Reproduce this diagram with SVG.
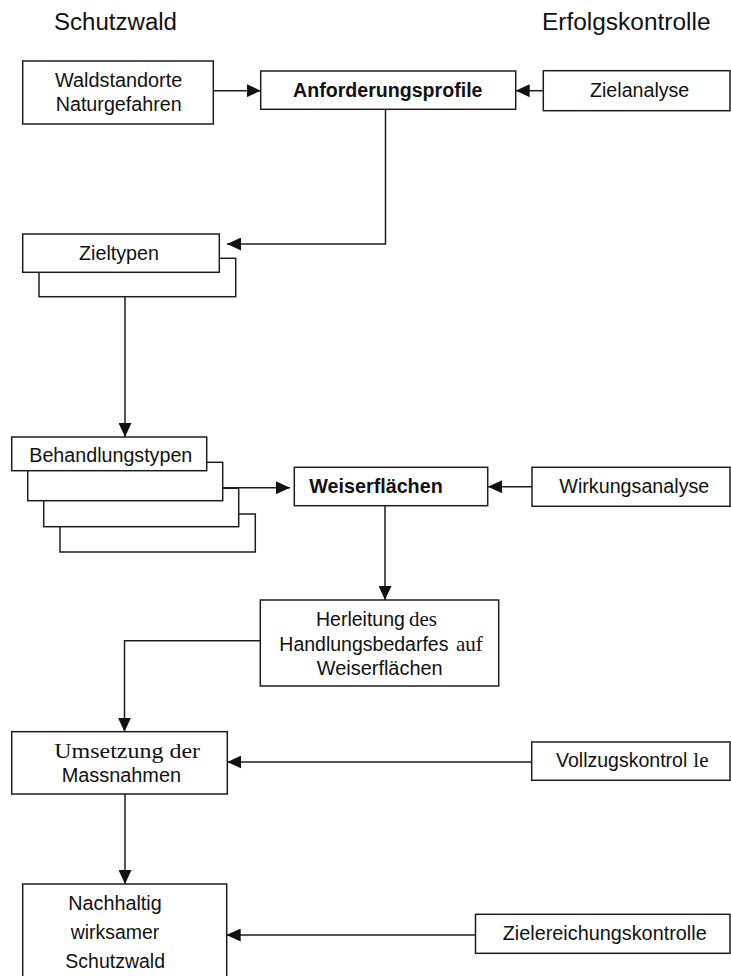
<svg xmlns="http://www.w3.org/2000/svg" width="731" height="976" viewBox="0 0 731 976">
<defs>
<style>
.box{fill:#fff;stroke:#1e1e1e;stroke-width:1.5}
.t{font-family:"Liberation Sans",Arial,sans-serif;font-size:19.5px;fill:#111}
.b{font-weight:bold}
.s{font-family:"Liberation Serif","Times New Roman",serif;font-size:21px}
.title{font-family:"Liberation Sans",Arial,sans-serif;font-size:23px;fill:#111}
.c{fill:none;stroke:#1e1e1e;stroke-width:1.5}
</style>
<marker id="ah" markerUnits="userSpaceOnUse" markerWidth="14" markerHeight="13" refX="14" refY="6.5" orient="auto">
<path d="M0,0 L14,6.5 L0,13 z" fill="#111"/>
</marker>
</defs>
<rect width="731" height="976" fill="#fff"/>

<g id="titles">
<text class="title" x="54" y="30" textLength="123" lengthAdjust="spacingAndGlyphs">Schutzwald</text>
<text class="title" x="542" y="30" textLength="168.5" lengthAdjust="spacingAndGlyphs">Erfolgskontrolle</text>
</g>

<g id="connectors">
<path class="c" d="M213.3,90.7 H260.7" marker-end="url(#ah)"/>
<path class="c" d="M543.3,90.7 H515.7" marker-end="url(#ah)"/>
<path class="c" d="M385.5,109.3 V244 H227" marker-end="url(#ah)"/>
<path class="c" d="M125,296.7 V437" marker-end="url(#ah)"/>
<path class="c" d="M222.7,487.7 H290" marker-end="url(#ah)"/>
<path class="c" d="M532,486.7 H488" marker-end="url(#ah)"/>
<path class="c" d="M385,505.7 V600" marker-end="url(#ah)"/>
<path class="c" d="M260.3,640.7 H124.5 V731.7" marker-end="url(#ah)"/>
<path class="c" d="M531.7,762 H227.3" marker-end="url(#ah)"/>
<path class="c" d="M125,794 V884" marker-end="url(#ah)"/>
<path class="c" d="M475.5,935 H226.7" marker-end="url(#ah)"/>
</g>

<g id="waldstandorte">
<rect class="box" x="22.7" y="61" width="190.6" height="63"/>
<text class="t" x="55" y="87.3" textLength="127.3" lengthAdjust="spacingAndGlyphs">Waldstandorte</text>
<text class="t" x="55.7" y="111" textLength="126" lengthAdjust="spacingAndGlyphs">Naturgefahren</text>
</g>

<g id="anforderungsprofile">
<rect class="box" x="260.7" y="71" width="255" height="38.3"/>
<text class="t b" x="293" y="97.3" textLength="189.5" lengthAdjust="spacingAndGlyphs">Anforderungsprofile</text>
</g>

<g id="zielanalyse">
<rect class="box" x="543.3" y="70.7" width="186.7" height="40"/>
<text class="t" x="590" y="97.3" textLength="99.3" lengthAdjust="spacingAndGlyphs">Zielanalyse</text>
</g>

<g id="zieltypen">
<rect class="box" x="39" y="258.3" width="196.7" height="38.4"/>
<rect class="box" x="22.7" y="234" width="196.6" height="38.3"/>
<text class="t" x="79" y="260" textLength="80" lengthAdjust="spacingAndGlyphs">Zieltypen</text>
</g>

<g id="behandlungstypen">
<rect class="box" x="60" y="514" width="195.3" height="38"/>
<rect class="box" x="43.7" y="488.3" width="195" height="38.4"/>
<rect class="box" x="27.7" y="462.3" width="195" height="38.4"/>
<rect class="box" x="11.7" y="437" width="195" height="33.7"/>
<text class="t" x="29.3" y="461.7" textLength="163" lengthAdjust="spacingAndGlyphs">Behandlungstypen</text>
</g>

<g id="weiserflaechen">
<rect class="box" x="294.3" y="467.3" width="193.4" height="38.4"/>
<text class="t b" x="309.3" y="493.3" textLength="133.4" lengthAdjust="spacingAndGlyphs">Weiserflächen</text>
</g>

<g id="wirkungsanalyse">
<rect class="box" x="532" y="467.3" width="198" height="39"/>
<text class="t" x="559.3" y="493" textLength="150" lengthAdjust="spacingAndGlyphs">Wirkungsanalyse</text>
</g>

<g id="herleitung">
<rect class="box" x="260.3" y="600" width="238.4" height="86"/>
<text class="t" y="626"><tspan x="316">Herleitung</tspan><tspan class="s" x="409">des</tspan></text>
<text class="t" y="651.3"><tspan x="279.3">Handlungsbedarfes</tspan><tspan class="s" x="456">auf</tspan></text>
<text class="t" x="316.7" y="675" textLength="126" lengthAdjust="spacingAndGlyphs">Weiserflächen</text>
</g>

<g id="umsetzung">
<rect class="box" x="11.7" y="731.7" width="215.6" height="62.3"/>
<text class="t s" x="54.3" y="757.7" textLength="145.7" lengthAdjust="spacingAndGlyphs">Umsetzung der</text>
<text class="t" x="61.7" y="781.7" textLength="119.3" lengthAdjust="spacingAndGlyphs">Massnahmen</text>
</g>

<g id="vollzugskontrolle">
<rect class="box" x="531.7" y="742" width="198.3" height="38.3"/>
<text class="t" y="766.7"><tspan x="556" textLength="131.3" lengthAdjust="spacingAndGlyphs">Vollzugskontrol</tspan><tspan class="s" x="693.3">le</tspan></text>
</g>

<g id="nachhaltig">
<rect class="box" x="22.7" y="884" width="204" height="110"/>
<text class="t" x="68.3" y="910" textLength="93.4" lengthAdjust="spacingAndGlyphs">Nachhaltig</text>
<text class="t" x="70.7" y="939" textLength="88.6" lengthAdjust="spacingAndGlyphs">wirksamer</text>
<text class="t" x="65.3" y="968.3" textLength="99.7" lengthAdjust="spacingAndGlyphs">Schutzwald</text>
</g>

<g id="zielereichungskontrolle">
<rect class="box" x="475.5" y="914.3" width="254.5" height="39"/>
<text class="t" x="502.7" y="940" textLength="204" lengthAdjust="spacingAndGlyphs">Zielereichungskontrolle</text>
</g>
</svg>
